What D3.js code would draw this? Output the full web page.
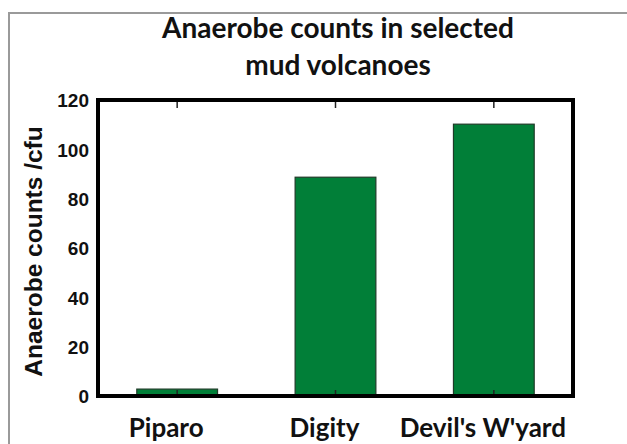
<!DOCTYPE html>
<html>
<head>
<meta charset="utf-8">
<script src="https://cdn.jsdelivr.net/npm/d3@7/dist/d3.min.js"></script>
<style>
html,body{margin:0;padding:0;background:#fff;}
svg{display:block;}
</style>
</head>
<body>
<svg id="chart" width="627" height="444"></svg>
<script>
const categories = ["Piparo", "Digity", "Devil's W'yard"];
const values = [2.8, 88.7, 110.2];
const yTicks = [0, 20, 40, 60, 80, 100, 120];
const titleLines = ["Anaerobe counts in selected", "mud volcanoes"];
const yTitle = "Anaerobe counts /cfu";

const svg = d3.select("#chart");
const W = 627, H = 444;
const m = {left: 98, right: 573, top: 100, bottom: 396};

// outer frame (gray)
svg.append("path")
  .attr("d", `M9,${H} L9,13 L${W},13`)
  .attr("fill", "none").attr("stroke", "#9a9a9a").attr("stroke-width", 2);

const x = d3.scaleBand().domain(categories).range([m.left, m.right]).paddingInner(0.49).paddingOuter(0.245);
const y = d3.scaleLinear().domain([0, 120]).range([m.bottom, m.top]);

// bars
svg.append("g").selectAll("rect").data(values).join("rect")
  .attr("x", (d, i) => x(categories[i]))
  .attr("width", x.bandwidth())
  .attr("y", d => y(d))
  .attr("height", d => y(0) - y(d))
  .attr("fill", "#017f38")
  .attr("stroke", "#1f3b28").attr("stroke-width", 1.2);

// bottom axis inner ticks
const xb = svg.append("g").attr("transform", `translate(0,${m.bottom})`)
  .call(d3.axisBottom(x).tickSize(-6).tickFormat(""));
xb.select(".domain").remove();
xb.selectAll("line").attr("stroke", "#222").attr("stroke-width", 1.5);

// top axis inner ticks
const xt = svg.append("g").attr("transform", `translate(0,${m.top})`)
  .call(d3.axisTop(x).tickSize(-8).tickFormat(""));
xt.select(".domain").remove();
xt.selectAll("line").attr("stroke", "#222").attr("stroke-width", 1.5);

// y axis labels
const ya = svg.append("g").attr("transform", `translate(${m.left},0)`)
  .call(d3.axisLeft(y).tickValues(yTicks).tickSize(0).tickPadding(9));
ya.select(".domain").remove();
ya.selectAll("text")
  .attr("font-family", "'Liberation Sans', Arial, sans-serif")
  .attr("font-weight", "bold").attr("font-size", 19).attr("fill", "#111")
  .attr("dy", "0.36em");

// frame
svg.append("rect")
  .attr("x", m.left).attr("y", m.top)
  .attr("width", m.right - m.left).attr("height", m.bottom - m.top)
  .attr("fill", "none").attr("stroke", "#000").attr("stroke-width", 4);

// x labels
svg.append("g").selectAll("text").data(categories).join("text")
  .attr("x", d => x(d) + x.bandwidth() / 2 - 11)
  .attr("y", 437)
  .attr("text-anchor", "middle")
  .attr("font-family", "Lato, 'Open Sans', sans-serif")
  .attr("font-weight", "bold").attr("font-size", 26).attr("fill", "#111")
  .text(d => d);

// title
svg.append("g").selectAll("text").data(titleLines).join("text")
  .attr("x", 338)
  .attr("y", (d, i) => 38 + i * 37)
  .attr("text-anchor", "middle")
  .attr("font-family", "Lato, 'Open Sans', sans-serif")
  .attr("font-weight", "bold").attr("font-size", 28).attr("fill", "#111")
  .text(d => d);

// y title
svg.append("text")
  .attr("transform", `translate(42,${(118 + 385) / 2}) rotate(-90)`)
  .attr("text-anchor", "middle")
  .attr("font-family", "'Liberation Sans', Arial, sans-serif")
  .attr("font-weight", "bold").attr("font-size", 24.5).attr("fill", "#111")
  .text(yTitle);
</script>
</body>
</html>
